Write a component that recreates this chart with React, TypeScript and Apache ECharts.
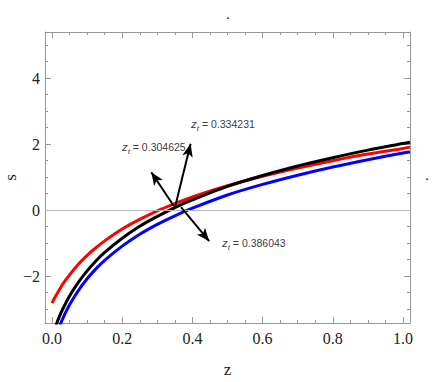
import React, { useEffect, useRef } from "react";
import * as echarts from "echarts";

// ---- data ----
const zGrid = [0, 0.01, 0.02, 0.03, 0.05, 0.075, 0.1, 0.125, 0.15, 0.2, 0.25, 0.3, 0.35, 0.4, 0.5, 0.6, 0.7, 0.8, 0.9, 1.0, 1.02];
const sRed = [-2.82, -2.61, -2.43, -2.25, -1.96, -1.64, -1.37, -1.14, -0.93, -0.57, -0.28, -0.02, 0.2, 0.4, 0.74, 1.03, 1.28, 1.5, 1.7, 1.87, 1.91];
const sBlack = [-3.84, -3.53, -3.25, -3.01, -2.6, -2.19, -1.84, -1.54, -1.28, -0.85, -0.49, -0.19, 0.08, 0.31, 0.72, 1.05, 1.34, 1.59, 1.82, 2.02, 2.06];
const sBlue = [-4.2, -3.85, -3.56, -3.3, -2.87, -2.44, -2.08, -1.78, -1.52, -1.09, -0.73, -0.43, -0.17, 0.06, 0.46, 0.78, 1.06, 1.31, 1.53, 1.73, 1.76];

const xTicks = [0, 0.2, 0.4, 0.6, 0.8, 1.0];
const xMinorTicks = [0, 0.05, 0.1, 0.15, 0.2, 0.25, 0.3, 0.35, 0.4, 0.45, 0.5, 0.55, 0.6, 0.65, 0.7, 0.75, 0.8, 0.85, 0.9, 0.95, 1.0];
const yTicks = [-2, 0, 2, 4];
const yMinorTicks = [-3, -2.5, -2, -1.5, -1, -0.5, 0, 0.5, 1, 1.5, 2, 2.5, 3, 3.5, 4, 4.5, 5];

const ztValues = ["0.304625", "0.334231", "0.386043"];

// annotation anchors (data coordinates)
const labelAnchors = [
  [0.29, 1.91],
  [0.487, 2.61],
  [0.575, -1.0],
];
const arrowTails = [
  [0.3476, 0.12],
  [0.3504, 0.09],
  [0.3675, 0.09],
];
const arrowHeads = [
  [0.2829, 1.15],
  [0.3949, 2.01],
  [0.4479, -0.94],
];

const FRAME = "#999999";
const SERIF = "Liberation Serif";
const SANS = "Liberation Sans";

export default function App() {
  const ref = useRef<HTMLDivElement>(null);

  useEffect(() => {
    if (!ref.current) return;
    const chart = echarts.init(ref.current, null, { renderer: "svg" });

    const pair = (ys: number[]) => zGrid.map((z, i) => [z, ys[i]]);

    const frameX = (position: "top" | "bottom", values: number[], len: number, showLine: boolean, labels: boolean, extra: any = {}) => ({
      type: "value",
      min: -0.02,
      max: 1.02,
      position,
      axisLine: { show: showLine, onZero: false, lineStyle: { color: FRAME, width: 1 } },
      axisTick: { show: true, inside: true, length: len, customValues: values, lineStyle: { color: FRAME, width: 1 } },
      axisLabel: labels
        ? { show: true, customValues: values, formatter: (v: number) => v.toFixed(1), fontFamily: SERIF, fontSize: 16, color: "#222", margin: 7 }
        : { show: false },
      splitLine: { show: false },
      ...extra,
    });
    const frameY = (position: "left" | "right", values: number[], len: number, showLine: boolean, labels: boolean, extra: any = {}) => ({
      type: "value",
      min: -3.42,
      max: 5.4,
      position,
      axisLine: { show: showLine, onZero: false, lineStyle: { color: FRAME, width: 1 } },
      axisTick: { show: true, inside: true, length: len, customValues: values, lineStyle: { color: FRAME, width: 1 } },
      axisLabel: labels
        ? {
            show: true,
            customValues: values,
            formatter: (v: number) => (v < 0 ? "\u2212" + Math.abs(v) : String(v)),
            fontFamily: SERIF,
            fontSize: 16,
            color: "#222",
            margin: 5,
          }
        : { show: false },
      splitLine: { show: false },
      ...extra,
    });

    chart.setOption({
      animation: false,
      grid: { left: 45, right: 26, top: 32, bottom: 59, containLabel: false, outerBoundsMode: "none" },
      xAxis: [
        frameX("bottom", xTicks, 6, true, true, {
          name: "z",
          nameLocation: "middle",
          nameGap: 38,
          nameMoveOverlap: false,
          nameTextStyle: { fontFamily: SERIF, fontSize: 17, color: "#222" },
        }),
        frameX("top", xTicks, 6, true, false),
        frameX("bottom", xMinorTicks, 3, false, false),
        frameX("top", xMinorTicks, 3, false, false),
      ],
      yAxis: [
        frameY("left", yTicks, 6, true, true, {
          name: "s",
          nameLocation: "middle",
          nameRotate: 90,
          nameGap: 26,
          nameMoveOverlap: false,
          nameTextStyle: { fontFamily: SERIF, fontSize: 17, color: "#222" },
        }),
        frameY("right", yTicks, 6, true, false),
        frameY("left", yMinorTicks, 3, false, false),
        frameY("right", yMinorTicks, 3, false, false),
      ],
      series: [
        {
          type: "line",
          name: "blue",
          data: pair(sBlue),
          showSymbol: false,
          smooth: 0.3,
          clip: true,
          lineStyle: { color: "#0000ff", width: 3 },
          itemStyle: { color: "#0000ff" },
          silent: true,
          markLine: {
            silent: true,
            symbol: "none",
            label: { show: false },
            lineStyle: { color: "#b8b8b8", width: 1, type: "solid" },
            data: [{ yAxis: 0 }],
          },
        },
        {
          type: "line",
          name: "red",
          data: pair(sRed),
          showSymbol: false,
          smooth: 0.3,
          clip: true,
          lineStyle: { color: "#ff0000", width: 3 },
          itemStyle: { color: "#ff0000" },
          silent: true,
        },
        {
          type: "line",
          name: "black",
          data: pair(sBlack),
          showSymbol: false,
          smooth: 0.3,
          clip: true,
          lineStyle: { color: "#000000", width: 3 },
          itemStyle: { color: "#000000" },
          silent: true,
        },
        {
          type: "scatter",
          name: "labels",
          symbolSize: 0,
          silent: true,
          data: labelAnchors.map((p, i) => ({
            value: p,
            label: {
              show: true,
              position: "inside",
              formatter: "{z|z}{t|t}{n| = " + ztValues[i] + "}",
              rich: {
                z: { fontFamily: SANS, fontStyle: "italic", fontSize: 11.5, color: "#000", lineHeight: 16, verticalAlign: "middle" },
                t: { fontFamily: SANS, fontStyle: "italic", fontSize: 8, color: "#000", lineHeight: 8, verticalAlign: "bottom" },
                n: { fontFamily: SANS, fontSize: 10.5, color: "#000", lineHeight: 16, verticalAlign: "middle" },
              },
            },
          })),
          markLine: {
            silent: true,
            symbol: ["none", "arrow"],
            label: { show: false },
            lineStyle: { color: "#000", width: 2, type: "solid" },
            data: arrowTails.map((t, i) => [
              { coord: t, symbol: "none" },
              { coord: arrowHeads[i], symbol: "arrow", symbolSize: [8, 13] },
            ]),
          },
        },
      ],
      graphic: [
        { type: "text", x: 228, y: 21, style: { text: ".", fontFamily: SERIF, fontSize: 14, fill: "#000", align: "center", verticalAlign: "bottom" } },
        { type: "text", x: 427, y: 182, style: { text: ".", fontFamily: SERIF, fontSize: 14, fill: "#000", align: "center", verticalAlign: "bottom" } },
      ],
    });

    return () => chart.dispose();
  }, []);

  return <div ref={ref} style={{ position: "fixed", left: 0, top: 0, width: 436, height: 382, background: "#fff" }} />;
}
